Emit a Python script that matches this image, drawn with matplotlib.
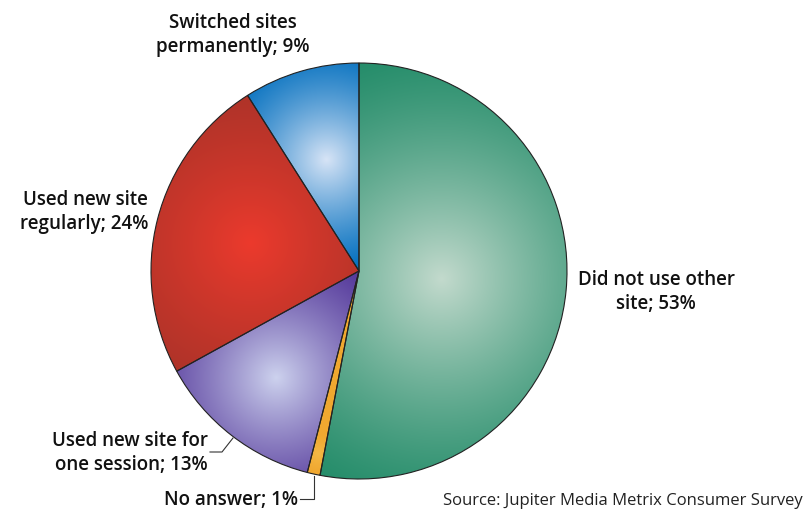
import numpy as np
import matplotlib
matplotlib.use('Agg')
import matplotlib.pyplot as plt

labels = ['Did not use other\nsite; 53%', 'No answer; 1%', 'Used new site for\none session; 13%',
          'Used new site\nregularly; 24%', 'Switched sites\npermanently; 9%']
values = [53, 1, 13, 24, 9]

# edge colour, highlight colour, highlight position (fraction of radius), gradient reach
edge_cols = [(35, 140, 105), (240, 168, 48), (78, 48, 150), (165, 50, 40), (0, 110, 190)]
hl_cols = [(195, 218, 205), (245, 185, 70), (205, 210, 238), (236, 58, 45), (215, 228, 246)]
hl_frac = [0.40, 0.9, 0.65, 0.54, 0.56]
hl_reach = [240, 20, 150, 190, 120]

W, H = 806, 512
cx, cy, R = 359, 241, 208

fig = plt.figure(figsize=(W / 100, H / 100), dpi=100)
ax = fig.add_axes([0, 0, 1, 1])

wedges, _ = ax.pie(values, startangle=90, counterclock=False, center=(cx, cy), radius=R,
                   wedgeprops=dict(edgecolor='#222222', linewidth=0.8, facecolor='none'),
                   frame=True)
ax.set_xlim(0, W)
ax.set_ylim(0, H)
ax.set_aspect('auto')
ax.axis('off')

xs = np.linspace(cx - R, cx + R, 420)
ys = np.linspace(cy - R, cy + R, 420)
gx, gy = np.meshgrid(xs, ys)
for i, w in enumerate(wedges):
    mid = np.deg2rad((w.theta1 + w.theta2) / 2)
    hx = cx + hl_frac[i] * R * np.cos(mid)
    hy = cy + hl_frac[i] * R * np.sin(mid)
    d = np.hypot(gx - hx, gy - hy)
    t = np.clip(1 - d / hl_reach[i], 0, 1) ** 1.3
    e = np.array(edge_cols[i]) / 255
    h = np.array(hl_cols[i]) / 255
    img = e[None, None, :] + (h - e)[None, None, :] * t[:, :, None]
    im = ax.imshow(img, extent=(cx - R, cx + R, cy - R, cy + R), origin='lower',
                   interpolation='bilinear', zorder=1, aspect='auto')
    im.set_clip_path(w)
    w.set_zorder(2)

font = dict(family='Open Sans', fontweight='semibold', fontsize=13.5, color='#111111',
            linespacing=1.3)
ax.text(233, H - 35, labels[4], ha='center', va='center', **font)
ax.text(148, H - 212, labels[3], ha='right', va='center', multialignment='right', **font)
ax.text(656, H - 292, labels[0], ha='center', va='center', **font)
ax.text(208, H - 453, labels[2], ha='right', va='center', multialignment='right', **font)
ax.text(298, H - 500, labels[1], ha='right', va='center', **font)

# leader lines
ax.plot([210, 222, 233], [H - 452, H - 452, H - 438], color='#333333', lw=0.8)
ax.plot([300, 314, 314], [H - 499, H - 499, H - 476], color='#333333', lw=0.8)

ax.text(803, H - 501, 'Source: Jupiter Media Metrix Consumer Survey', ha='right', va='center',
        family='Open Sans', fontsize=12, color='#222222')

fig.savefig('out.png', dpi=100)
